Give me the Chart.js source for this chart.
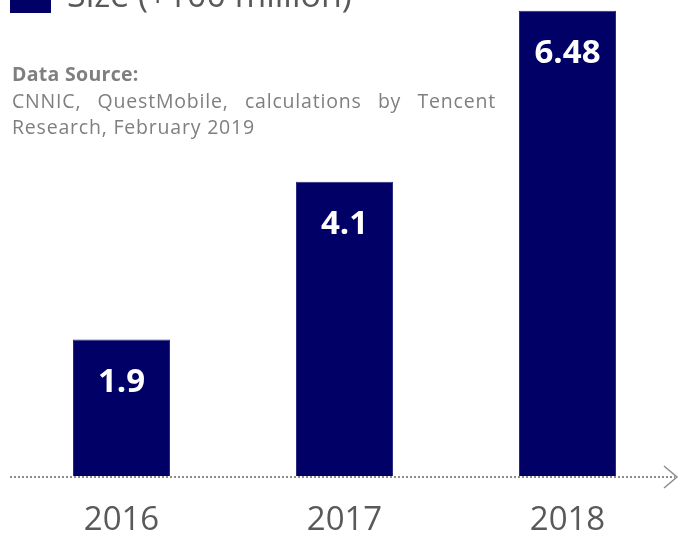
<!DOCTYPE html>
<html>
<head>
<meta charset="utf-8">
<script src="https://cdn.jsdelivr.net/npm/chart.js@4"></script>
<style>
  html, body { margin: 0; padding: 0; background: #ffffff; overflow: hidden; }
  #wrap { position: relative; width: 679px; height: 534px; }
  .source { position: absolute; left: 12px; top: 66px; width: 484px; font-family: "Open Sans", "Noto Sans", sans-serif; color: #7f7f7f; font-size: 19.5px; line-height: 26px; letter-spacing: 0.8px; }
  .source .head { font-weight: 700; line-height: 15px; letter-spacing: 0.3px; margin-bottom: 7px; }
  .source .just { text-align: justify; text-align-last: justify; }
</style>
</head>
<body>
<div id="wrap">
  <canvas id="c"></canvas>
  <div class="source">
    <div class="head">Data Source:</div>
    <div class="just">CNNIC, QuestMobile, calculations by Tencent</div>
    <div>Research, February 2019</div>
  </div>
</div>
<script>
// Yearly user scale, in units of 100 million
const years = ['2016', '2017', '2018'];
const userScale = [1.9, 4.1, 6.48];
const seriesLabel = 'Size (+100 million)';
const barColor = '#000066';

// Value labels printed inside the top of each bar
const valueLabels = {
  id: 'valueLabels',
  afterDatasetsDraw(chart) {
    const ctx = chart.ctx;
    const meta = chart.getDatasetMeta(0);
    ctx.save();
    ctx.fillStyle = '#ffffff';
    ctx.font = 'bold 33px "Open Sans", "Noto Sans", sans-serif';
    ctx.textAlign = 'center';
    ctx.textBaseline = 'middle';
    meta.data.forEach((bar, i) => {
      ctx.fillText(String(chart.data.datasets[0].data[i]), bar.x, bar.y + 43);
    });
    ctx.restore();
  }
};

// Dotted baseline with an arrow head, plus the series key at the top
const decorations = {
  id: 'decorations',
  beforeDatasetsDraw(chart) {
    const ctx = chart.ctx;
    const y = chart.chartArea.bottom + 1;
    ctx.save();
    ctx.strokeStyle = '#8c8c8c';
    ctx.lineWidth = 2;
    ctx.setLineDash([2, 2]);
    ctx.beginPath();
    ctx.moveTo(10, y);
    ctx.lineTo(675, y);
    ctx.stroke();
    ctx.setLineDash([]);
    ctx.lineWidth = 1.5;
    ctx.beginPath();
    ctx.moveTo(664, y - 11);
    ctx.lineTo(677, y);
    ctx.lineTo(664, y + 11);
    ctx.stroke();
    ctx.restore();
  },
  afterDraw(chart) {
    const ctx = chart.ctx;
    ctx.save();
    ctx.fillStyle = chart.data.datasets[0].backgroundColor;
    ctx.fillRect(10, -14, 41, 27);
    ctx.fillStyle = '#595959';
    ctx.font = '34px "Open Sans", "Noto Sans", sans-serif';
    ctx.textBaseline = 'alphabetic';
    ctx.textAlign = 'left';
    ctx.fillText(chart.data.datasets[0].label, 67, 7);
    ctx.restore();
  }
};

new Chart(document.getElementById('c'), {
  type: 'bar',
  data: {
    labels: years,
    datasets: [{
      label: seriesLabel,
      data: userScale,
      backgroundColor: barColor,
      borderColor: '#2a2a80',
      borderWidth: 1,
      barPercentage: 0.435,
      categoryPercentage: 1
    }]
  },
  options: {
    responsive: true,
    maintainAspectRatio: false,
    animation: false,
    layout: { padding: { left: 10, right: 0, top: 0, bottom: 0 } },
    plugins: { legend: { display: false }, tooltip: { enabled: false } },
    scales: {
      x: {
        grid: { display: false, drawTicks: false },
        border: { display: false },
        ticks: {
          color: '#595959',
          font: { family: '"Open Sans", "Noto Sans", sans-serif', size: 33, lineHeight: 1.2 },
          padding: 25
        },
        afterFit(scale) { scale.height = 58; }
      },
      y: {
        display: false,
        min: 0,
        max: 6.63
      }
    }
  },
  plugins: [valueLabels, decorations]
});
</script>
</body>
</html>
